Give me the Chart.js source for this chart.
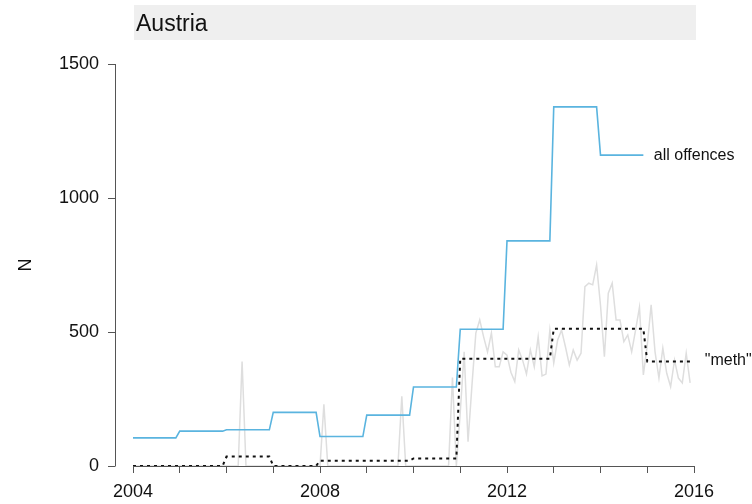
<!DOCTYPE html>
<html>
<head>
<meta charset="utf-8">
<script src="https://cdn.jsdelivr.net/npm/chart.js@4"></script>
<style>
  body { margin: 0; background: #fff; }
  #box { width: 752px; height: 504px; }
</style>
</head>
<body>
<div id="box"><canvas id="grafico"></canvas></div>
<script>
// Dados (Áustria)
const country = 'Austria';
const years = [2004, 2005, 2006, 2007, 2008, 2009, 2010, 2011, 2012, 2013, 2014, 2015];
const xTicks = [2004, 2005, 2006, 2007, 2008, 2009, 2010, 2011, 2012, 2013, 2014, 2015, 2016];
const yTicks = [0, 500, 1000, 1500];

// todas as ofensas (valor anual, 2004-2014)
const allOffences = [105, 130, 135, 200, 110, 190, 295, 510, 840, 1340, 1160];
// "meth" valor anual (linha pontilhada)
const methYearly = [0, 0, 35, 0, 20, 20, 28, 400, 400, 512, 512, 390];
// "meth" mensal (linha cinza), uma linha por ano
const methMonthly = [
  0, 0, 0, 0, 0, 0, 0, 0, 0, 0, 0, 0,
  0, 0, 0, 0, 0, 0, 0, 0, 0, 0, 0, 0,
  0, 0, 0, 0, 390, 0, 0, 0, 0, 0, 0, 0,
  0, 0, 0, 0, 0, 0, 0, 0, 0, 0, 0, 0,
  0, 230, 0, 0, 0, 0, 0, 0, 0, 0, 0, 0,
  0, 0, 0, 0, 0, 0, 0, 0, 0, 260, 0, 0,
  0, 0, 0, 0, 0, 0, 0, 0, 0, 0, 330, 0,
  200, 426, 91, 300, 496, 545, 482, 426, 496, 370, 370, 426,
  414, 350, 315, 433, 395, 343, 433, 370, 482, 336, 343, 507,
  384, 470, 507, 445, 377, 433, 395, 421, 669, 682, 676, 750,
  600, 408, 645, 682, 545, 545, 464, 489, 426, 507, 592, 340,
  450, 601, 426, 328, 440, 346, 296, 395, 328, 310, 421, 310
];

const FONT = "'Liberation Sans', Arial, Helvetica, sans-serif";

// valor anual repetido em cada mês do ano
function porMes(anuais) {
  const pts = [];
  anuais.forEach((v, a) => {
    for (let m = 0; m < 12; m++) pts.push({ x: years[a] + m / 12, y: v });
  });
  return pts;
}
const mensal = methMonthly.map((v, i) => ({ x: years[0] + i / 12, y: v }));

// faixa do título, eixo y estilo R e rótulos das séries
const extras = {
  id: 'extras',
  beforeDraw(chart) {
    const { ctx, chartArea } = chart;
    ctx.save();
    ctx.fillStyle = '#efefef';
    ctx.fillRect(chartArea.left + 1, 5, chartArea.right - chartArea.left + 1, 35);
    ctx.fillStyle = '#111';
    ctx.font = '23px ' + FONT;
    ctx.textBaseline = 'alphabetic';
    ctx.fillText(country, chartArea.left + 3, 31);
    ctx.restore();
  },
  afterDraw(chart) {
    const { ctx, chartArea, scales } = chart;
    const y = scales.y, x = scales.x;
    const ax = chartArea.left - 18;
    ctx.save();
    ctx.strokeStyle = '#555';
    ctx.lineWidth = 1;
    ctx.beginPath();
    ctx.moveTo(ax + 0.5, y.getPixelForValue(yTicks[0]));
    ctx.lineTo(ax + 0.5, y.getPixelForValue(yTicks[yTicks.length - 1]));
    yTicks.forEach(t => {
      const py = Math.round(y.getPixelForValue(t)) + 0.5;
      ctx.moveTo(ax + 0.5, py);
      ctx.lineTo(ax - 7, py);
    });
    ctx.stroke();

    ctx.fillStyle = '#111';
    ctx.font = '16px ' + FONT;
    ctx.textBaseline = 'middle';
    ctx.fillText('all offences', x.getPixelForValue(2015.14), y.getPixelForValue(1160));
    ctx.fillText('"meth"', x.getPixelForValue(2016.23), y.getPixelForValue(392));
    ctx.restore();
  }
};

const ctx = document.getElementById('grafico').getContext('2d');
const grafico = new Chart(ctx, {
  type: 'line',
  data: {
    datasets: [
      {
        label: 'all offences',
        data: porMes(allOffences),
        borderColor: '#5ab4df',
        borderWidth: 1.6,
        pointRadius: 0,
        tension: 0,
        order: 1
      },
      {
        label: '"meth"',
        data: porMes(methYearly),
        borderColor: '#111',
        borderWidth: 2,
        borderDash: [3, 4],
        pointRadius: 0,
        tension: 0,
        order: 2
      },
      {
        label: 'meth mensal',
        data: mensal,
        borderColor: '#dedede',
        borderWidth: 1.5,
        pointRadius: 0,
        tension: 0,
        order: 3
      }
    ]
  },
  options: {
    responsive: true,
    maintainAspectRatio: false,
    animation: false,
    layout: { padding: { top: 64, right: 58, left: 0, bottom: 0 } },
    plugins: {
      legend: { display: false },
      tooltip: { enabled: false }
    },
    scales: {
      x: {
        type: 'linear',
        min: 2004,
        max: 2016,
        afterBuildTicks: s => { s.ticks = xTicks.map(v => ({ value: v })); },
        afterFit: s => { s.height = 38; },
        ticks: {
          autoSkip: false,
          maxRotation: 0,
          padding: 8,
          color: '#111',
          font: { family: FONT, size: 18 },
          callback: v => (v % 4 === 0 ? String(v) : '')
        },
        grid: {
          display: true,
          drawOnChartArea: false,
          drawTicks: true,
          tickLength: 7,
          color: '#555'
        },
        border: { display: true, color: '#555', width: 1 }
      },
      y: {
        min: 0,
        max: 1500,
        afterBuildTicks: s => { s.ticks = yTicks.map(v => ({ value: v })); },
        afterFit: s => {
          s.width = 133;
          s.paddingTop = 11;
          s.paddingBottom = 11;
        },
        ticks: {
          padding: 34,
          color: '#111',
          font: { family: FONT, size: 18 },
          callback: v => String(v)
        },
        grid: { display: false, drawTicks: false },
        border: { display: false },
        title: {
          display: true,
          text: 'N',
          color: '#111',
          font: { family: FONT, size: 18 },
          padding: { top: 15, bottom: 0 }
        }
      }
    }
  },
  plugins: [extras]
});
</script>
</body>
</html>
